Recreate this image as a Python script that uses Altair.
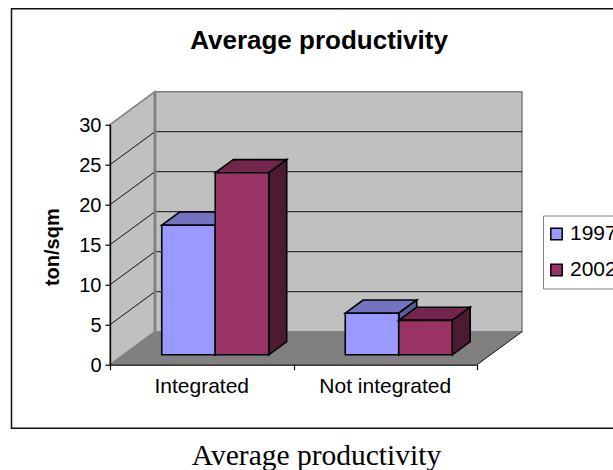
import altair as alt
import pandas as pd

# Chart values
categories = ["Integrated", "Not integrated"]
series = ["1997", "2002"]
values_1997 = [16.2, 5.2]
values_2002 = [22.75, 4.3]
y_ticks = [0, 5, 10, 15, 20, 25, 30]

# Oblique box projection, expressed in axis units
DEPTH_X = 0.245
DEPTH_Y = 4.125
BAR_FRONT = 0.3
BAR_BACK = 0.7
BAR_WIDTH = 0.2915
FRONT_COLORS = ["#9999FF", "#993366"]
TOP_COLORS = ["#7373BF", "#73264D"]
SIDE_COLORS = ["#5C5C99", "#4D1A33"]
WALL = "#C0C0C0"
EDGE = "#808080"
FONT = "Liberation Sans"
BAR_STROKE = 1.6


def project(cat, value, depth):
    return cat + DEPTH_X * depth, value + DEPTH_Y * depth


x_scale = alt.Scale(domain=[0, 2], nice=False, zero=False)
y_scale = alt.Scale(domain=[0, 30], nice=False, zero=False)
x_axis = alt.Axis(values=[0, 1, 2], labels=False, title=None, grid=False, domainColor="black",
                  domainWidth=1.3, tickColor="black", tickSize=5, tickWidth=1.2, zindex=1)
y_axis = alt.Axis(values=y_ticks, title="ton/sqm", grid=False, domainColor="black", domainWidth=1.3,
                  tickColor="black", tickSize=5, tickWidth=1.2, labelFont=FONT, labelFontSize=20,
                  labelColor="black", labelPadding=4, labelOffset=1, titleFont=FONT, titleFontSize=20,
                  titleFontWeight="bold", titleColor="black", titleX=-58, titleY=122,
                  titleBaseline="middle", zindex=1)
X = alt.X("x:Q", scale=x_scale, axis=x_axis)
Y = alt.Y("y:Q", scale=y_scale, axis=y_axis)
X2 = alt.X2("x2:Q")
Y2 = alt.Y2("y2:Q")
COLOR = alt.Color(
    "series:N",
    scale=alt.Scale(domain=series, range=FRONT_COLORS),
    legend=alt.Legend(title=None, orient="none", legendX=433, legendY=90.8, fillColor="white",
                      strokeColor=EDGE, padding=8, symbolType="square", symbolSize=130,
                      symbolStrokeColor="black", symbolStrokeWidth=1.5, symbolOffset=-5, labelFont=FONT,
                      labelFontSize=21, labelColor="black", rowPadding=14, labelOffset=3),
)


def side_face(cat_left, low, high, d0, d1, **style):
    """Parallelogram whose vertical edges lie at two depths."""
    x0, y0 = project(cat_left, low, d0)
    x1, y1 = project(cat_left, low, d1)
    rows = pd.DataFrame({"x": [x0, x1], "y": [y0, y1], "y2": [y0 + high - low, y1 + high - low]})
    return alt.Chart(rows).mark_area(orient="vertical", **style).encode(x=X, y=Y, y2=Y2)


def top_face(cat_left, cat_right, value, d0, d1, **style):
    """Parallelogram whose horizontal edges lie at two depths."""
    xa0, ya0 = project(cat_left, value, d0)
    xb0, _ = project(cat_right, value, d0)
    xa1, ya1 = project(cat_left, value, d1)
    xb1, _ = project(cat_right, value, d1)
    rows = pd.DataFrame({"x": [xa0, xa1], "x2": [xb0, xb1], "y": [ya0, ya1]})
    return alt.Chart(rows).mark_area(orient="horizontal", **style).encode(x=X, x2=X2, y=Y)


def front_face(cat_left, cat_right, value, name):
    x0, y0 = project(cat_left, 0, BAR_FRONT)
    x1, y1 = project(cat_right, value, BAR_FRONT)
    rows = pd.DataFrame({"x": [x0], "x2": [x1], "y": [y0], "y2": [y1], "series": [name]})
    return alt.Chart(rows).mark_rect(stroke="black", strokeWidth=BAR_STROKE).encode(
        x=X, x2=X2, y=Y, y2=Y2, color=COLOR
    )


# Chart frame and caption, placed in pixels around the plot
anchor = pd.DataFrame({"a": [0]})
frame = alt.Chart(anchor).mark_rect(fill="white", stroke="#111111", strokeWidth=1.5).encode(
    x=alt.value(-98.5), x2=alt.value(600), y=alt.value(-116), y2=alt.value(303.5)
)
caption = alt.Chart(anchor).mark_text(
    text="Average productivity", font="Liberation Serif", fontSize=29.5, color="black", align="center",
    baseline="alphabetic"
).encode(x=alt.value(206.5), y=alt.value(340))

# Walls and floor
back_x0, back_y0 = project(0, 0, 1)
back_x1, back_y1 = project(2, 30, 1)
back_wall = alt.Chart(
    pd.DataFrame({"x": [back_x0], "x2": [back_x1], "y": [back_y0], "y2": [back_y1]})
).mark_rect(fill=WALL, stroke=EDGE, strokeWidth=1.6).encode(x=X, x2=X2, y=Y, y2=Y2)
left_wall = side_face(0, 0, 30, 0, 1, fill=WALL, stroke=EDGE, strokeWidth=1.6)
wall_corner = alt.Chart(pd.DataFrame({"x": [back_x0], "y": [back_y0], "y2": [back_y1]})).mark_rule(
    color=EDGE, strokeWidth=2.8
).encode(x=X, y=Y, y2=Y2)
floor = top_face(0, 2, 0, 0, 1, fill=EDGE)

# Gridlines run along the left wall and across the back wall
line_rows = []
for tick in y_ticks[1:-1]:
    bx, by = project(0, tick, 1)
    ex, _ = project(2, tick, 1)
    line_rows += [
        {"x": 0, "y": tick, "id": f"side{tick}"},
        {"x": bx, "y": by, "id": f"side{tick}"},
        {"x": bx, "y": by, "id": f"back{tick}"},
        {"x": ex, "y": by, "id": f"back{tick}"},
    ]
grid = alt.Chart(pd.DataFrame(line_rows)).mark_line(color="#111111", strokeWidth=1).encode(
    x=X, y=Y, detail="id:N"
)
fx, fy = project(2, 0, 1)
floor_edge = alt.Chart(pd.DataFrame({"x": [2, fx], "y": [0, fy]})).mark_line(
    color="#111111", strokeWidth=1
).encode(x=X, y=Y)

# Bars: for each category, the earlier series first so the later one overlaps it
layers = [frame, back_wall, left_wall, grid, wall_corner, floor, floor_edge]
for c, _ in enumerate(categories):
    for s, (name, vals) in enumerate(zip(series, [values_1997, values_2002])):
        left = c + 0.5 - BAR_WIDTH + s * BAR_WIDTH
        right = left + BAR_WIDTH
        layers.append(top_face(left, right, vals[c], BAR_FRONT, BAR_BACK,
                               fill=TOP_COLORS[s], stroke="black", strokeWidth=BAR_STROKE))
        layers.append(side_face(right, 0, vals[c], BAR_FRONT, BAR_BACK,
                                fill=SIDE_COLORS[s], stroke="black", strokeWidth=BAR_STROKE))
        layers.append(front_face(left, right, vals[c], name))

# Category labels centred under their axis segments
labels = alt.Chart(
    pd.DataFrame({"x": [i + 0.5 for i in range(len(categories))], "y": [0] * len(categories), "label": categories})
).mark_text(font=FONT, fontSize=21, color="black", align="center", baseline="alphabetic", dy=28).encode(
    x=X, y=Y, text="label:N"
)
layers += [labels, caption]

chart = alt.layer(*layers).properties(
    width=367,
    height=240,
    padding={"left": 110, "top": 124.7, "right": 136, "bottom": 105.3},
    autosize=alt.AutoSizeParams(type="none"),
    background="white",
    title=alt.TitleParams("Average productivity", font=FONT, fontSize=26, fontWeight="bold",
                          color="black", anchor="middle", dx=25.5, offset=-46),
).configure_view(stroke=None)

chart.save("out.html", embed_options={"renderer": "svg", "actions": False})
